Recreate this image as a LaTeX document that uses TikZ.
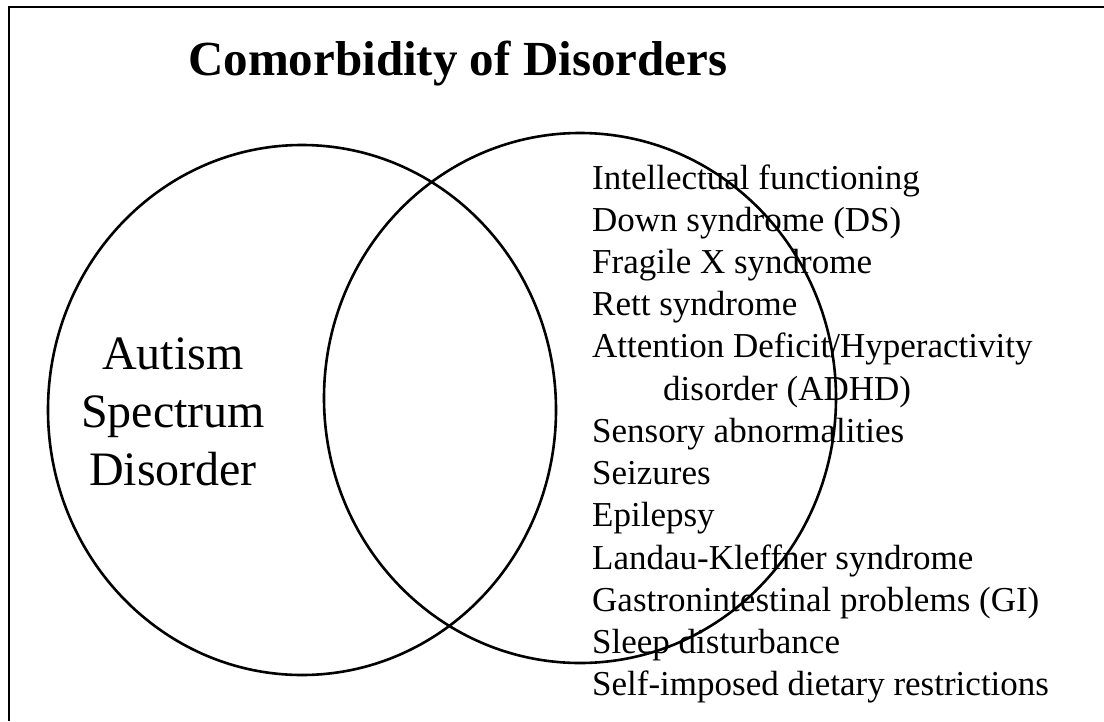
\documentclass[tikz,border=0pt]{standalone}
\usepackage{fontspec}
\setmainfont{Liberation Serif}
\usetikzlibrary{shapes.geometric}
\begin{document}
\begin{tikzpicture}[x=1pt,y=-1pt,
  setcircle/.style={ellipse,draw,line width=2.6pt,inner sep=0pt},
  frameline/.style={line width=1.5pt},
  item/.style={anchor=base west,inner sep=0pt,font=\fontsize{35}{42}\selectfont},
  asdlabel/.style={align=center,inner sep=0pt,font=\fontsize{48}{58}\selectfont},
  heading/.style={anchor=base west,inner sep=0pt,font=\fontsize{49}{58}\selectfont\bfseries}]
  \useasboundingbox (0,0) rectangle (1104,721);
  % frame along the top and left edges
  \coordinate (ftl) at (9,7);
  \coordinate (ftr) at (1104,7);
  \coordinate (fbl) at (9,721);
  \draw[frameline] (ftr) -- (ftl) -- (fbl);
  % title
  \node[heading] (title) at (188,75) {Comorbidity of Disorders};
  % the two overlapping sets
  \node[setcircle,minimum width=508pt,minimum height=530pt] (asd) at (302,410) {};
  \node[setcircle,minimum width=512pt,minimum height=530pt] (comorb) at (580,398) {};
  % label of the left set
  \node[asdlabel] (asdtext) at (173,412) {Autism\\Spectrum\\Disorder};
  % list of co-occurring conditions
  \node[item] (l1) at (592,189) {Intellectual functioning};
  \node[item] (l2) at (592,231) {Down syndrome (DS)};
  \node[item] (l3) at (592,273) {Fragile X syndrome};
  \node[item] (l4) at (592,315) {Rett syndrome};
  \node[item] (l5) at (592,357) {Attention Deficit/Hyperactivity};
  \node[item] (l6) at (663,400) {disorder (ADHD)};
  \node[item] (l7) at (592,442) {Sensory abnormalities};
  \node[item] (l8) at (592,484) {Seizures};
  \node[item] (l9) at (592,526) {Epilepsy};
  \node[item] (l10) at (592,569) {Landau-Kleffner syndrome};
  \node[item] (l11) at (592,611) {Gastronintestinal problems (GI)};
  \node[item] (l12) at (592,653) {Sleep disturbance};
  \node[item] (l13) at (592,695) {Self-imposed dietary restrictions};
\end{tikzpicture}
\end{document}
